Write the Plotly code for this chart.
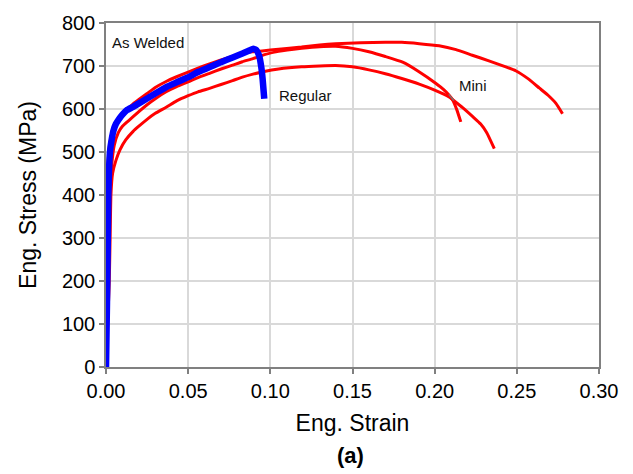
import plotly.graph_objects as go

# Engineering stress-strain curves, as-welded condition
# Mini specimens (three tests)
mini_a_strain = [0.0, 0.0003, 0.0005, 0.0006, 0.0008, 0.0012, 0.002, 0.003, 0.005, 0.0075,
                 0.010, 0.0135, 0.0165, 0.020, 0.025, 0.030, 0.0366, 0.043, 0.050, 0.056,
                 0.063, 0.070, 0.077, 0.083, 0.089, 0.095, 0.100, 0.110, 0.119, 0.130,
                 0.1397, 0.155, 0.170, 0.180, 0.1906, 0.2027, 0.213, 0.2229, 0.233, 0.2433,
                 0.2493, 0.257, 0.2636, 0.269, 0.2738, 0.2778]
mini_a_stress = [0, 100, 200, 300, 400, 470, 510, 535, 560, 578,
                 590, 602, 612, 622, 636, 650, 664, 675, 686, 695,
                 705, 714, 722, 729, 733, 735, 737, 741, 744, 749,
                 752, 754, 755, 755, 752, 747, 738, 725, 712, 698,
                 689, 670, 649, 632, 613, 589]

mini_b_strain = [0.0, 0.0008, 0.0015, 0.0020, 0.0025, 0.0035, 0.0050, 0.0075, 0.010, 0.0135,
                 0.0165, 0.020, 0.025, 0.030, 0.0366, 0.043, 0.050, 0.056, 0.063, 0.070,
                 0.077, 0.083, 0.0894, 0.097, 0.105, 0.119, 0.130, 0.1397, 0.150, 0.160,
                 0.170, 0.1805, 0.190, 0.2006, 0.2055, 0.2088, 0.2108, 0.2135, 0.2159]
mini_b_stress = [0, 100, 200, 300, 400, 470, 515, 545, 560, 572,
                 582, 594, 610, 624, 640, 652, 663, 673, 683, 693,
                 702, 710, 717, 727, 734, 741, 745, 746, 741, 733,
                 722, 709, 688, 660, 645, 632, 622, 598, 570]

mini_c_strain = [0.0, 0.0010, 0.0020, 0.0025, 0.0030, 0.0040, 0.0060, 0.0085, 0.012, 0.0165,
                 0.020, 0.025, 0.030, 0.0366, 0.043, 0.050, 0.056, 0.063, 0.070, 0.077,
                 0.083, 0.0894, 0.097, 0.105, 0.119, 0.130, 0.1397, 0.150, 0.160, 0.170,
                 0.180, 0.1906, 0.200, 0.2088, 0.2108, 0.217, 0.2235, 0.228, 0.2317, 0.2363]
mini_c_stress = [0, 100, 200, 300, 400, 450, 480, 505, 528, 548,
                 560, 576, 590, 604, 619, 631, 640, 648, 657, 666,
                 674, 681, 688, 693, 698, 700, 701, 698, 691, 682,
                 671, 658, 644, 628, 622, 603, 581, 565, 545, 508]

# Regular specimen
regular_strain = [0.0, 0.0004, 0.0008, 0.0011, 0.0014, 0.0024, 0.0035, 0.0045, 0.006, 0.008,
                  0.010, 0.0125, 0.0165, 0.020, 0.0265, 0.030, 0.0366, 0.043, 0.050, 0.056,
                  0.0628, 0.070, 0.0771, 0.083, 0.0872, 0.0896, 0.0915, 0.0932, 0.0945, 0.0953,
                  0.0963]
regular_stress = [0, 100, 200, 300, 400, 500, 530, 549, 565, 577,
                  587, 597, 605, 613, 628, 636, 651, 662, 674, 686,
                  697, 709, 720, 729, 736, 740, 737, 724, 697, 670,
                  624]

x_ticks = [0.00, 0.05, 0.10, 0.15, 0.20, 0.25, 0.30]
y_ticks = [0, 100, 200, 300, 400, 500, 600, 700, 800]

FONT = "Liberation Sans, Arial, sans-serif"
RED = "#ff0000"
BLUE = "#0000ff"

fig = go.Figure()
for sx, sy in [(mini_a_strain, mini_a_stress),
               (mini_b_strain, mini_b_stress),
               (mini_c_strain, mini_c_stress)]:
    fig.add_trace(go.Scatter(x=sx, y=sy, mode="lines",
                             line=dict(color=RED, width=3, shape="spline", smoothing=0.4),
                             showlegend=False, hoverinfo="skip"))
fig.add_trace(go.Scatter(x=regular_strain, y=regular_stress, mode="lines",
                         line=dict(color=BLUE, width=6.5, shape="spline", smoothing=0.3),
                         showlegend=False, hoverinfo="skip"))

# short leader from the "Mini" label to the curves
fig.add_shape(type="line", x0=0.2086, y0=634, x1=0.2116, y1=620,
              line=dict(color="#777777", width=1.5))

label_font = dict(family=FONT, size=15, color="#111111")
fig.add_annotation(x=0.0024, y=754, text="As Welded", showarrow=False,
                   xanchor="left", yanchor="middle", font=label_font)
fig.add_annotation(x=0.1041, y=632, text="Regular", showarrow=False,
                   xanchor="left", yanchor="middle", font=label_font)
fig.add_annotation(x=0.2136, y=655, text="Mini", showarrow=False,
                   xanchor="left", yanchor="middle", font=label_font)
fig.add_annotation(x=0.495, y=-0.257, xref="paper", yref="paper", text="<b>(a)</b>",
                   showarrow=False, xanchor="center", yanchor="middle",
                   font=dict(family=FONT, size=22, color="#000000"))

axis_common = dict(showline=True, linecolor="#808080", linewidth=1.5, mirror=True,
                   showgrid=True, gridcolor="#d9d9d9", gridwidth=1.5,
                   ticks="outside", ticklen=5, tickcolor="#808080", tickwidth=1.5,
                   zeroline=False,
                   tickfont=dict(family=FONT, size=20, color="#000000"))

fig.update_layout(
    width=633, height=474,
    margin=dict(l=106, r=34, t=23, b=107, autoexpand=False),
    paper_bgcolor="white", plot_bgcolor="white",
    xaxis=dict(range=[0, 0.30], tickvals=x_ticks,
               ticktext=[f"{v:.2f}" for v in x_ticks],
               title=dict(text="Eng. Strain", standoff=14,
                          font=dict(family=FONT, size=23, color="#000000")),
               automargin=False, **axis_common),
    yaxis=dict(range=[0, 800], tickvals=y_ticks,
               title=dict(text="Eng. Stress (MPa)", standoff=19,
                          font=dict(family=FONT, size=23, color="#000000")),
               automargin=False, **axis_common),
)

fig.write_html("out.html")
